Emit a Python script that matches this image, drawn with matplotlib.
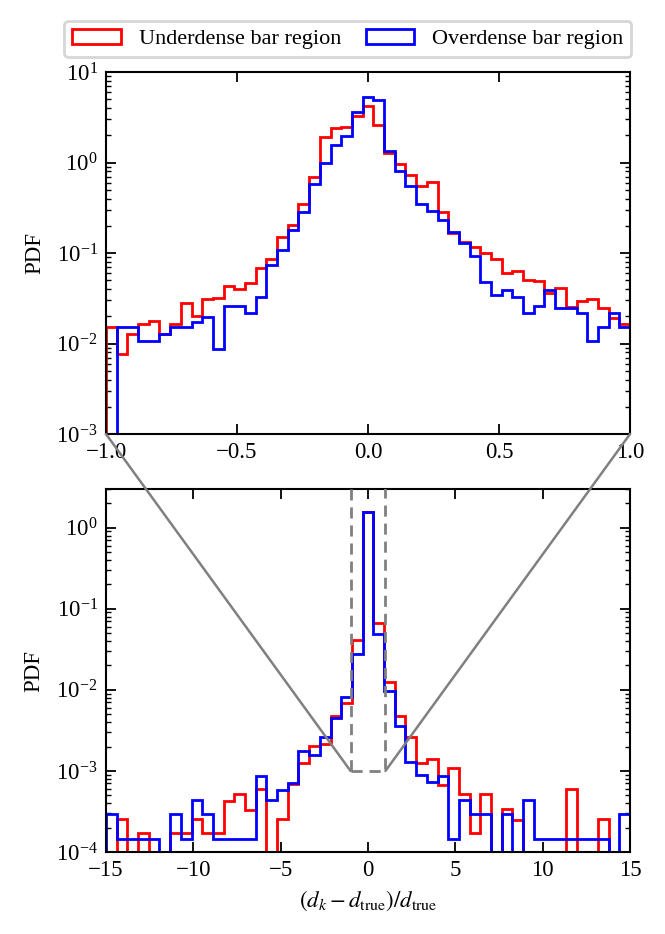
import numpy as np
import matplotlib
matplotlib.use("Agg")
import matplotlib.pyplot as plt
from matplotlib.patches import ConnectionPatch, Rectangle

plt.rcParams['font.family'] = ['Liberation Serif', 'DejaVu Serif']
plt.rcParams['mathtext.fontset'] = 'stix'
plt.rcParams['font.size'] = 16.5

# ---- data ----
zoom_edges_range = (-1.0, 1.0)
full_edges_range = (-15.0, 15.0)
n_edges = 50

under_zoom = [0.0153, 0.0077, 0.0127, 0.0164, 0.0179, 0.0126, 0.0164, 0.0278, 0.0203, 0.0308,
              0.0318, 0.0432, 0.040, 0.0462, 0.0689, 0.0859, 0.149, 0.204, 0.348, 0.697,
              1.90, 2.39, 2.45, 3.27, 4.21, 2.57, 1.26, 0.955, 0.728, 0.555,
              0.610, 0.281, 0.165, 0.133, 0.117, 0.099, 0.085, 0.0606, 0.0632, 0.0503,
              0.0491, 0.0358, 0.0407, 0.0255, 0.0297, 0.0308, 0.0245, 0.0190, 0.0164]
over_zoom = [0.0, 0.0153, 0.0153, 0.0107, 0.0107, 0.0129, 0.0153, 0.0153, 0.0174, 0.0198,
             0.0087, 0.0259, 0.0259, 0.0215, 0.0324, 0.0736, 0.108, 0.179, 0.281, 0.574,
             0.996, 1.56, 1.96, 3.65, 5.25, 4.91, 1.35, 0.813, 0.555, 0.348,
             0.291, 0.232, 0.172, 0.130, 0.0927, 0.0482, 0.0343, 0.039, 0.0324, 0.0215,
             0.0259, 0.039, 0.0245, 0.0245, 0.0215, 0.0107, 0.0153, 0.0215, 0.0153]

under_full = [0.0, 2.54e-4, 0.0, 1.73e-4, 0.0, 0.0, 1.73e-4, 1.73e-4, 2.54e-4, 1.73e-4,
              1.73e-4, 4.27e-4, 5.18e-4, 3.31e-4, 5.97e-4, 0.0, 2.54e-4, 6.89e-4, 1.27e-3, 2.05e-3,
              2.15e-3, 4.72e-3, 6.8e-3, 0.0408, 1.55, 0.0674, 0.0124, 4.82e-3, 2.60e-3, 1.27e-3,
              1.40e-3, 6.75e-4, 1.09e-3, 5.18e-4, 1.73e-4, 5.18e-4, 0.0, 3.37e-4, 2.49e-4, 0.0,
              0.0, 0.0, 0.0, 5.97e-4, 0.0, 0.0, 2.54e-4, 0.0, 0.0]
over_full = [2.93e-4, 1.44e-4, 1.44e-4, 1.44e-4, 1.44e-4, 0.0, 2.93e-4, 1.44e-4, 4.36e-4, 2.93e-4,
             1.44e-4, 1.44e-4, 1.44e-4, 1.44e-4, 8.73e-4, 4.36e-4, 5.81e-4, 7.0e-4, 1.74e-3, 1.58e-3,
             2.65e-3, 4.5e-3, 8.1e-3, 0.0275, 1.55, 0.0485, 9.55e-3, 3.62e-3, 1.30e-3, 9.0e-4,
             7.21e-4, 8.73e-4, 1.44e-4, 4.36e-4, 2.93e-4, 2.93e-4, 0.0, 2.93e-4, 0.0, 4.36e-4,
             1.44e-4, 1.44e-4, 1.44e-4, 1.44e-4, 1.44e-4, 1.44e-4, 1.44e-4, 0.0, 2.93e-4]

labels = ["Underdense bar region", "Overdense bar region"]
colors = ["#ff0000", "#0000ff"]
xlabel = r"$(d_k - d_{\rm true})/d_{\rm true}$"

# ---- figure ----
fig = plt.figure(figsize=(6.65, 9.34), dpi=100)
ax1 = fig.add_axes([0.1594, 0.5353, 0.788, 0.3876])
ax2 = fig.add_axes([0.1594, 0.0878, 0.788, 0.3886])

ez = np.linspace(*zoom_edges_range, n_edges)
ef = np.linspace(*full_edges_range, n_edges)
cz = 0.5 * (ez[:-1] + ez[1:])
cf = 0.5 * (ef[:-1] + ef[1:])

handles = []
for vals, col, lab in [(under_zoom, colors[0], labels[0]), (over_zoom, colors[1], labels[1])]:
    _, _, p = ax1.hist(cz, bins=ez, weights=vals, histtype='step', color=col, lw=2, label=lab)
    handles.append(p[0])
for vals, col in [(under_full, colors[0]), (over_full, colors[1])]:
    ax2.hist(cf, bins=ef, weights=vals, histtype='step', color=col, lw=2)

ax1.set_yscale('log')
ax2.set_yscale('log')
ax1.set_xlim(-1, 1)
ax1.set_ylim(1e-3, 1e1)
ax2.set_xlim(-15, 15)
ax2.set_ylim(1e-4, 3)
ax1.set_xticks([-1.0, -0.5, 0.0, 0.5, 1.0])
ax2.set_xticks([-15, -10, -5, 0, 5, 10, 15])
ax1.set_ylabel("PDF", labelpad=8)
ax2.set_ylabel("PDF", labelpad=8)
ax2.set_xlabel(xlabel, labelpad=5)

for ax in (ax1, ax2):
    ax.tick_params(which='both', direction='in', top=True, right=True)
    ax.tick_params(which='major', length=7, width=1.3, labelsize=16.5, pad=6)
    ax.tick_params(which='minor', length=3.5, width=1.0)
    ax.minorticks_off()
    ax.yaxis.set_minor_locator(matplotlib.ticker.LogLocator(base=10, subs=np.arange(2, 10), numticks=20))
    for s in ax.spines.values():
        s.set_linewidth(1.5)

# zoom indicator
rect = Rectangle((-1, 1e-3), 2, 100, fill=False, ls=(0, (4, 2.5)), lw=2, ec='gray', zorder=5)
ax2.add_patch(rect)
for xx, ax_x in [(-1, 0), (1, 1)]:
    con = ConnectionPatch(xyA=(xx, 1e-3), coordsA=ax2.transData,
                          xyB=(ax_x, 0), coordsB=ax1.transAxes,
                          color='gray', lw=1.8, zorder=5)
    fig.add_artist(con)

leg = fig.legend(handles, labels, loc='lower center', bbox_to_anchor=(0.523, 0.939),
                 ncol=2, frameon=True, fontsize=16, handlelength=2.2, columnspacing=1.1,
                 handletextpad=0.8, borderpad=0.35, borderaxespad=0)
leg.get_frame().set_edgecolor('#cccccc')
leg.get_frame().set_linewidth(2)

fig.savefig("out.png", dpi=100)
